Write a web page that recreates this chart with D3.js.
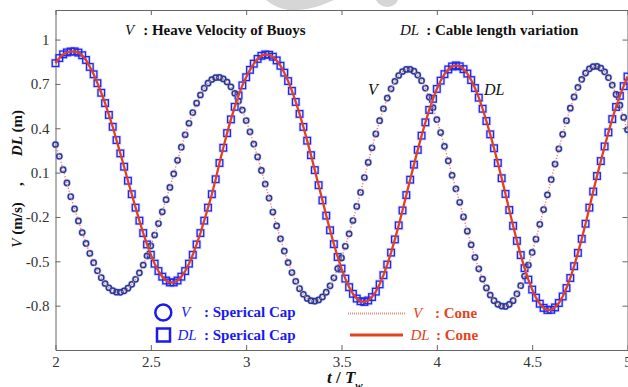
<!DOCTYPE html>
<html>
<head>
<meta charset="utf-8">
<script src="https://cdn.jsdelivr.net/npm/d3@7"></script>
<style>
  html, body { margin: 0; padding: 0; background: #fff; }
  svg { display: block; font-family: "Liberation Serif", "Times New Roman", serif; }
</style>
</head>
<body>
<svg id="chart" width="628" height="387"></svg>
<script>
// Sampling of the time axis t / Tw
const timeStart = 2;
const timeStep = 0.02;

// Heave velocity of the buoys V (m/s), one value per time step
const heaveV = [
  0.29, 0.21, 0.12, 0.03, -0.063, -0.146, -0.227, -0.305, -0.379, -0.447,
  -0.509, -0.564, -0.611, -0.65, -0.679, -0.699, -0.709, -0.71, -0.7, -0.682,
  -0.656, -0.622, -0.578, -0.525, -0.463, -0.395, -0.322, -0.245, -0.165, -0.083,
  0, 0.092, 0.183, 0.272, 0.356, 0.434, 0.506, 0.57, 0.625, 0.671,
  0.705, 0.73, 0.743, 0.744, 0.734, 0.713, 0.68, 0.637, 0.584, 0.523,
  0.452, 0.376, 0.293, 0.206, 0.115, 0.023, -0.072, -0.167, -0.26, -0.348,
  -0.431, -0.508, -0.576, -0.635, -0.685, -0.723, -0.751, -0.766, -0.77, -0.761,
  -0.741, -0.709, -0.666, -0.612, -0.549, -0.477, -0.398, -0.314, -0.224, -0.129,
  -0.034, 0.067, 0.169, 0.268, 0.362, 0.451, 0.532, 0.604, 0.667, 0.718,
  0.757, 0.784, 0.798, 0.799, 0.786, 0.76, 0.722, 0.672, 0.611, 0.539,
  0.459, 0.371, 0.278, 0.18, 0.082, -0.01, -0.101, -0.2, -0.296, -0.388,
  -0.473, -0.551, -0.62, -0.68, -0.728, -0.766, -0.791, -0.803, -0.805, -0.791,
  -0.766, -0.72, -0.665, -0.6, -0.525, -0.44, -0.35, -0.25, -0.15, -0.05,
  0.053, 0.158, 0.261, 0.359, 0.451, 0.536, 0.612, 0.677, 0.731, 0.773,
  0.802, 0.817, 0.819, 0.807, 0.782, 0.743, 0.692, 0.629, 0.556, 0.473,
  0.39
];

// Cable length variation DL (m), one value per time step
const cableDL = [
  0.84, 0.875, 0.9, 0.913, 0.919, 0.92, 0.912, 0.894, 0.862, 0.815,
  0.765, 0.705, 0.64, 0.57, 0.49, 0.41, 0.32, 0.23, 0.14, 0.045,
  -0.046, -0.137, -0.225, -0.309, -0.386, -0.456, -0.516, -0.566, -0.604, -0.63,
  -0.643, -0.643, -0.63, -0.604, -0.566, -0.516, -0.456, -0.386, -0.309, -0.225,
  -0.137, -0.046, 0.055, 0.165, 0.268, 0.367, 0.46, 0.545, 0.622, 0.69,
  0.745, 0.795, 0.837, 0.869, 0.89, 0.899, 0.897, 0.884, 0.859, 0.823,
  0.776, 0.719, 0.653, 0.578, 0.497, 0.409, 0.316, 0.218, 0.117, 0.015,
  -0.088, -0.191, -0.29, -0.384, -0.471, -0.549, -0.617, -0.675, -0.72, -0.752,
  -0.77, -0.775, -0.765, -0.742, -0.705, -0.656, -0.594, -0.522, -0.441, -0.352,
  -0.257, -0.156, -0.052, 0.052, 0.154, 0.254, 0.35, 0.44, 0.524, 0.599,
  0.666, 0.722, 0.766, 0.798, 0.818, 0.825, 0.819, 0.8, 0.77, 0.726,
  0.672, 0.607, 0.532, 0.449, 0.359, 0.265, 0.165, 0.062, -0.044, -0.153,
  -0.26, -0.362, -0.458, -0.546, -0.624, -0.691, -0.746, -0.787, -0.815, -0.829,
  -0.828, -0.812, -0.782, -0.738, -0.681, -0.613, -0.533, -0.443, -0.348, -0.246,
  -0.137, -0.028, 0.077, 0.178, 0.277, 0.372, 0.462, 0.544, 0.619, 0.685,
  0.75
];

const xTickValues = [2, 2.5, 3, 3.5, 4, 4.5, 5];
const yTickValues = [-0.8, -0.5, -0.2, 0.1, 0.4, 0.7, 1];
const xDomain = [2, 5];
const yDomain = [-1.1, 1.2];

const svg = d3.select("#chart");
const plotLeft = 55.5, plotRight = 627.5, plotTop = 10, plotBottom = 350;

const x = d3.scaleLinear().domain(xDomain).range([plotLeft, plotRight]);
const y = d3.scaleLinear().domain(yDomain).range([plotBottom, plotTop]);

const timeOf = i => +(timeStart + i * timeStep).toFixed(4);
const vPoints = heaveV.map((v, i) => ({ t: timeOf(i), v }));
const dlPoints = cableDL.map((v, i) => ({ t: timeOf(i), v }));

// faint marks along the top edge
const shade = svg.append("g").attr("fill", "#d6d6d6");
shade.append("path").attr("d", "M266,0 L334,0 L322,5 Q306,11 288,10 Q276,8 266,0 Z");
shade.append("path").attr("d", "M376,0 L398,0 Q395,7 387,7 Q379,6 376,0 Z");

// axes: boxed frame with inward ticks
const axisColor = "#666";
function styleAxis(g) {
  g.attr("font-family", null).attr("font-size", null);
  g.select(".domain").attr("stroke", axisColor);
  g.selectAll(".tick line").attr("stroke", axisColor);
  g.selectAll(".tick text").attr("fill", "#333").style("font-size", "15px")
    .style("font-family", "'Liberation Serif', 'Times New Roman', serif");
}

svg.append("g").attr("transform", `translate(0,${plotBottom})`)
  .call(d3.axisBottom(x).tickValues(xTickValues).tickSize(-5).tickSizeOuter(0)
    .tickPadding(6).tickFormat(d => String(d)))
  .call(styleAxis);
svg.append("g").attr("transform", `translate(0,${plotTop})`)
  .call(d3.axisTop(x).tickValues(xTickValues).tickSize(-5).tickSizeOuter(0).tickFormat(""))
  .call(styleAxis);
svg.append("g").attr("transform", `translate(${plotLeft},0)`)
  .call(d3.axisLeft(y).tickValues(yTickValues).tickSize(-5).tickSizeOuter(0)
    .tickPadding(6).tickFormat(d => String(d)))
  .call(styleAxis);
svg.append("g").attr("transform", `translate(${plotRight},0)`)
  .call(d3.axisRight(y).tickValues(yTickValues).tickSize(-5).tickSizeOuter(0).tickFormat(""))
  .call(styleAxis);

const line = d3.line().x(d => x(d.t)).y(d => y(d.v));

// Spherical cap: DL squares
const sq = 6.6;
const squares = svg.append("g").attr("fill", "none");
squares.selectAll("rect.halo").data(dlPoints).join("rect").attr("class", "halo")
  .attr("x", d => x(d.t) - sq / 2).attr("y", d => y(d.v) - sq / 2)
  .attr("width", sq).attr("height", sq)
  .attr("stroke", "#8d98ff").attr("stroke-width", 3).attr("stroke-opacity", 0.35);
squares.selectAll("rect.mark").data(dlPoints).join("rect").attr("class", "mark")
  .attr("x", d => x(d.t) - sq / 2).attr("y", d => y(d.v) - sq / 2)
  .attr("width", sq).attr("height", sq)
  .attr("stroke", "#1d27f0").attr("stroke-width", 1.3);

// Spherical cap: V circles
const circles = svg.append("g").attr("fill", "none");
circles.selectAll("circle.halo").data(vPoints).join("circle").attr("class", "halo")
  .attr("cx", d => x(d.t)).attr("cy", d => y(d.v)).attr("r", 2.6)
  .attr("stroke", "#8c9be0").attr("stroke-width", 3).attr("stroke-opacity", 0.35);
circles.selectAll("circle.mark").data(vPoints).join("circle").attr("class", "mark")
  .attr("cx", d => x(d.t)).attr("cy", d => y(d.v)).attr("r", 2.6)
  .attr("stroke", "#253a98").attr("stroke-width", 1.5);

// Cone: DL solid line, V dotted line
svg.append("path").datum(dlPoints).attr("d", line)
  .attr("fill", "none").attr("stroke", "#e4401c").attr("stroke-width", 2.3);
svg.append("path").datum(vPoints).attr("d", line)
  .attr("fill", "none").attr("stroke", "#f07a72").attr("stroke-width", 1.4)
  .attr("stroke-dasharray", "1.2 1.8");

// header notes
const header = svg.append("g").attr("font-size", 15).attr("fill", "#111");
const h1 = header.append("text").attr("x", 125).attr("y", 35);
h1.append("tspan").attr("font-style", "italic").text("V");
h1.append("tspan").attr("font-weight", "bold").attr("dx", 9).text(": Heave Velocity of Buoys");
const h2 = header.append("text").attr("x", 400).attr("y", 35);
h2.append("tspan").attr("font-style", "italic").text("DL");
h2.append("tspan").attr("font-weight", "bold").attr("dx", 7).text(": Cable length variation");

// curve names
svg.append("text").attr("x", 368).attr("y", 95).attr("font-size", 16)
  .attr("font-style", "italic").attr("fill", "#111").text("V");
svg.append("text").attr("x", 484).attr("y", 95).attr("font-size", 16)
  .attr("font-style", "italic").attr("fill", "#111").text("DL");

// y axis title
const yTitle = svg.append("g").attr("font-size", 15).attr("font-weight", "bold").attr("fill", "#111");
const yt1 = yTitle.append("text").attr("transform", "translate(22,225) rotate(-90)").attr("text-anchor", "middle");
yt1.append("tspan").attr("font-style", "italic").attr("font-weight", "normal").text("V");
yt1.append("tspan").text(" (m/s)");
yTitle.append("text").attr("transform", "translate(22,184) rotate(-90)").attr("text-anchor", "middle").text(",");
const yt2 = yTitle.append("text").attr("transform", "translate(22,133) rotate(-90)").attr("text-anchor", "middle");
yt2.append("tspan").attr("font-style", "italic").text("DL");
yt2.append("tspan").text(" (m)");

// x axis title
const xt = svg.append("text").attr("x", 327).attr("y", 383).attr("font-size", 17)
  .attr("font-weight", "bold").attr("fill", "#111");
xt.append("tspan").attr("font-style", "italic").text("t");
xt.append("tspan").text(" / ");
xt.append("tspan").attr("font-style", "italic").text("T");
xt.append("tspan").attr("font-size", 11).attr("font-style", "italic").attr("dy", 6).text("w");

// legend
const blue = "#1a1aee", red = "#e5431d";
const lg = svg.append("g").attr("font-size", 15);
lg.append("circle").attr("cx", 163.3).attr("cy", 312.5).attr("r", 8)
  .attr("fill", "none").attr("stroke", blue).attr("stroke-width", 2.5);
lg.append("rect").attr("x", 157).attr("y", 328.5).attr("width", 13).attr("height", 13)
  .attr("fill", "none").attr("stroke", blue).attr("stroke-width", 2.5);
lg.append("text").attr("x", 181).attr("y", 317).attr("fill", blue).attr("font-style", "italic").text("V");
lg.append("text").attr("x", 204).attr("y", 317).attr("fill", blue).attr("font-weight", "bold").text(": Sperical Cap");
lg.append("text").attr("x", 177.5).attr("y", 340).attr("fill", blue).attr("font-style", "italic").text("DL");
lg.append("text").attr("x", 204).attr("y", 340).attr("fill", blue).attr("font-weight", "bold").text(": Sperical Cap");

lg.append("line").attr("x1", 348).attr("x2", 406).attr("y1", 313.5).attr("y2", 313.5)
  .attr("stroke", "#f08a80").attr("stroke-width", 2.2).attr("stroke-dasharray", "1 1");
lg.append("line").attr("x1", 350).attr("x2", 403).attr("y1", 335).attr("y2", 335)
  .attr("stroke", red).attr("stroke-width", 3);
lg.append("text").attr("x", 413).attr("y", 318).attr("fill", red).attr("font-style", "italic").text("V");
lg.append("text").attr("x", 435).attr("y", 318).attr("fill", red).attr("font-weight", "bold").text(": Cone");
lg.append("text").attr("x", 410.5).attr("y", 340).attr("fill", red).attr("font-style", "italic").text("DL");
lg.append("text").attr("x", 436).attr("y", 340).attr("fill", red).attr("font-weight", "bold").text(": Cone");
</script>
</body>
</html>
